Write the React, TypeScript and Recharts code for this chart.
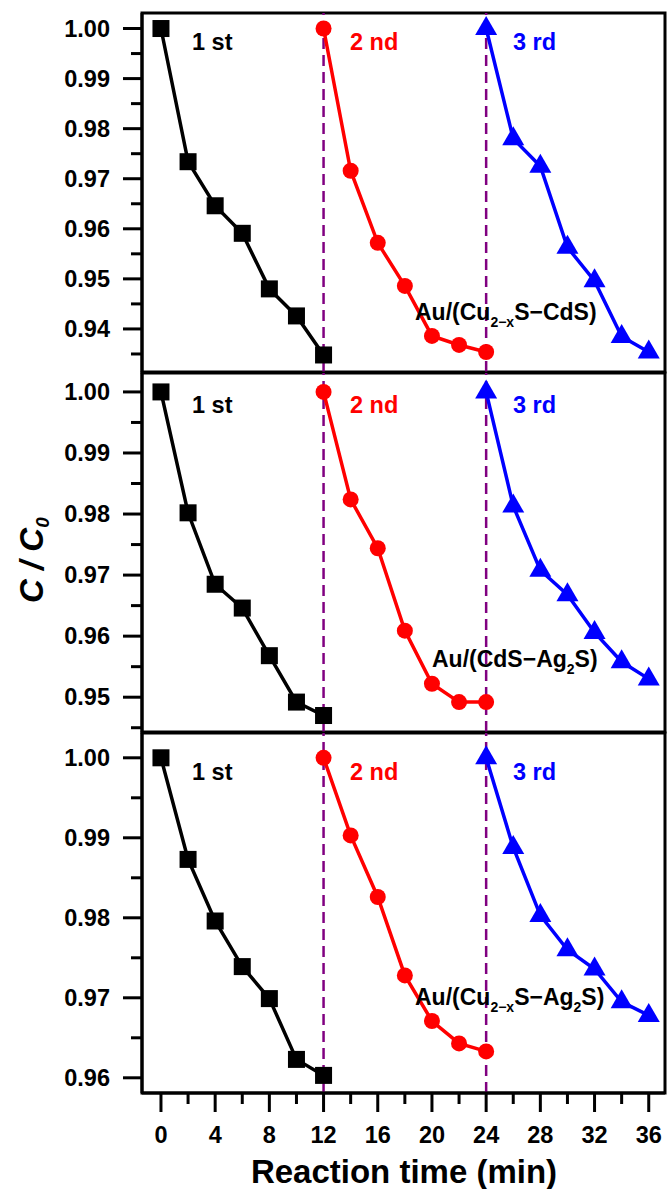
import { LineChart, Line, XAxis, YAxis, ReferenceLine, ReferenceArea } from 'recharts';

// reaction time for each cycle (min)
const timeFirst = [0, 2, 4, 6, 8, 10, 12];
const timeSecond = [12, 14, 16, 18, 20, 22, 24];
const timeThird = [24, 26, 28, 30, 32, 34, 36];

// Au/(Cu2-xS-CdS)
const cuCdsFirst = [1.0, 0.9734, 0.9646, 0.9591, 0.948, 0.9426, 0.9348];
const cuCdsSecond = [1.0, 0.9716, 0.9572, 0.9486, 0.9386, 0.9368, 0.9354];
const cuCdsThird = [1.0, 0.978, 0.9725, 0.9563, 0.9496, 0.9385, 0.9354];

// Au/(CdS-Ag2S)
const cdsAgFirst = [1.0, 0.9802, 0.9685, 0.9646, 0.9568, 0.9492, 0.947];
const cdsAgSecond = [1.0, 0.9824, 0.9744, 0.9609, 0.9522, 0.9492, 0.9492];
const cdsAgThird = [1.0, 0.9813, 0.9708, 0.9668, 0.9606, 0.9558, 0.953];

// Au/(Cu2-xS-Ag2S)
const cuAgFirst = [1.0, 0.9873, 0.9796, 0.9739, 0.9699, 0.9623, 0.9603];
const cuAgSecond = [1.0, 0.9903, 0.9826, 0.9728, 0.9671, 0.9643, 0.9633];
const cuAgThird = [1.0, 0.9888, 0.9803, 0.976, 0.9736, 0.9695, 0.9678];

// tick values (minor ticks included)
const yTicksTop = [0.935, 0.94, 0.945, 0.95, 0.955, 0.96, 0.965, 0.97, 0.975, 0.98, 0.985, 0.99, 0.995, 1.0];
const yTicksMid = [0.945, 0.95, 0.955, 0.96, 0.965, 0.97, 0.975, 0.98, 0.985, 0.99, 0.995, 1.0];
const yTicksBottom = [0.96, 0.965, 0.97, 0.975, 0.98, 0.985, 0.99, 0.995, 1.0];
const xTicks = [0, 2, 4, 6, 8, 10, 12, 14, 16, 18, 20, 22, 24, 26, 28, 30, 32, 34, 36];
const cycleBreaks = [12, 24];

const X_DOMAIN: [number, number] = [-1.4, 37.2];
const FONT = 'Arial, "Liberation Sans", sans-serif';
const RED = '#ff0000';
const BLUE = '#0000ff';
const PURPLE = '#800080';

const toRows = (times: number[], vals: number[]) => times.map((t, i) => ({ t, v: vals[i] }));

function YTick(props: any) {
  const { x, y, payload } = props;
  const v = payload.value as number;
  const major = Math.round(v * 1000) % 10 === 0;
  const ax = x + 32;
  return (
    <g>
      <line x1={ax} x2={ax - (major ? 19 : 11)} y1={y} y2={y} stroke="#000" strokeWidth={3} />
      {major && (
        <text x={x} y={y} dy={8} textAnchor="end" fontFamily={FONT} fontWeight="bold" fontSize={23.5} fill="#000">
          {v.toFixed(2)}
        </text>
      )}
    </g>
  );
}

function XTick(props: any) {
  const { x, y, payload } = props;
  const v = payload.value as number;
  const major = v % 4 === 0;
  const ay = y - 19;
  return (
    <g>
      <line x1={x} x2={x} y1={ay} y2={ay + (major ? 19 : 11)} stroke="#000" strokeWidth={3} />
      {major && (
        <text x={x} y={ay + 50} textAnchor="middle" fontFamily={FONT} fontWeight="bold" fontSize={23.5} fill="#000">
          {v}
        </text>
      )}
    </g>
  );
}

const squareDot = (p: any) => (
  <rect key={`sq-${p.index}`} x={p.cx - 8.5} y={p.cy - 8.5} width={17} height={17} fill="#000" />
);
const circleDot = (p: any) => <circle key={`ci-${p.index}`} cx={p.cx} cy={p.cy} r={8} fill={RED} />;
const triangleDot = (p: any) => (
  <polygon
    key={`tr-${p.index}`}
    points={`${p.cx},${p.cy - 12.5} ${p.cx - 11},${p.cy + 6.5} ${p.cx + 11},${p.cy + 6.5}`}
    fill={BLUE}
  />
);

interface PanelProps {
  top: number;
  height: number;
  bottom: number;
  domain: [number, number];
  yTicks: number[];
  first: number[];
  second: number[];
  third: number[];
  showX: boolean;
}

function Panel({ top, height, bottom, domain, yTicks, first, second, third, showX }: PanelProps) {
  return (
    <div style={{ position: 'absolute', left: 0, top }}>
      <LineChart width={667} height={height} margin={{ top: 13, right: 2, left: 0, bottom }}>
        <XAxis
          dataKey="t"
          type="number"
          domain={X_DOMAIN}
          allowDataOverflow
          ticks={xTicks}
          interval={0}
          height={showX ? 60 : 0}
          tick={showX ? <XTick /> : false}
          tickLine={false}
          tickSize={19}
          tickMargin={0}
          axisLine={{ stroke: '#000', strokeWidth: 3 }}
        />
        <YAxis
          type="number"
          domain={domain}
          allowDataOverflow
          ticks={yTicks}
          interval={0}
          width={142}
          tick={<YTick />}
          tickLine={false}
          tickSize={19}
          tickMargin={13}
          axisLine={{ stroke: '#000', strokeWidth: 3 }}
        />
        <ReferenceArea
          x1={X_DOMAIN[0]}
          x2={X_DOMAIN[1]}
          y1={domain[0]}
          y2={domain[1]}
          fill="none"
          stroke="#000"
          strokeWidth={3}
          ifOverflow="visible"
        />
        <Line
          data={toRows(timeFirst, first)}
          dataKey="v"
          stroke="#000"
          strokeWidth={3.5}
          dot={squareDot}
          activeDot={false}
          isAnimationActive={false}
        />
        {cycleBreaks.map((b) => (
          <ReferenceLine key={b} x={b} stroke={PURPLE} strokeWidth={2.5} strokeDasharray="11 6" />
        ))}
        <Line
          data={toRows(timeSecond, second)}
          dataKey="v"
          stroke={RED}
          strokeWidth={3.5}
          dot={circleDot}
          activeDot={false}
          isAnimationActive={false}
        />
        <Line
          data={toRows(timeThird, third)}
          dataKey="v"
          stroke={BLUE}
          strokeWidth={3.5}
          dot={triangleDot}
          activeDot={false}
          isAnimationActive={false}
        />
      </LineChart>
    </div>
  );
}

function CycleLabels({ y }: { y: number }) {
  return (
    <g fontFamily={FONT} fontWeight="bold" fontSize={23.5}>
      <text x={192} y={y} fill="#000">1 st</text>
      <text x={350} y={y} fill={RED}>2 nd</text>
      <text x={513} y={y} fill={BLUE}>3 rd</text>
    </g>
  );
}

export default function App() {
  return (
    <div style={{ position: 'absolute', left: 0, top: 0, width: 667, height: 1189, background: '#fff' }}>
      <Panel top={0} height={380} bottom={8} domain={[0.9314, 1.0031]} yTicks={yTicksTop}
        first={cuCdsFirst} second={cuCdsSecond} third={cuCdsThird} showX={false} />
      <Panel top={360} height={380} bottom={8} domain={[0.9443, 1.0031]} yTicks={yTicksMid}
        first={cdsAgFirst} second={cdsAgSecond} third={cdsAgThird} showX={false} />
      <Panel top={720} height={469} bottom={36} domain={[0.9581, 1.0031]} yTicks={yTicksBottom}
        first={cuAgFirst} second={cuAgSecond} third={cuAgThird} showX />
      <svg width={667} height={1189} style={{ position: 'absolute', left: 0, top: 0, pointerEvents: 'none' }}>
        <CycleLabels y={50} />
        <CycleLabels y={413} />
        <CycleLabels y={780} />
        <g fontFamily={FONT} fontWeight="bold" fontSize={23} fill="#000">
          <text x={415} y={320}>
            Au/(Cu<tspan fontSize={14} dy={7}>2−x</tspan><tspan dy={-7}>S−CdS)</tspan>
          </text>
          <text x={432} y={667}>
            Au/(CdS−Ag<tspan fontSize={14} dy={7}>2</tspan><tspan dy={-7}>S)</tspan>
          </text>
          <text x={415} y={1005}>
            Au/(Cu<tspan fontSize={14} dy={7}>2−x</tspan><tspan dy={-7}>S−Ag</tspan>
            <tspan fontSize={14} dy={7}>2</tspan><tspan dy={-7}>S)</tspan>
          </text>
        </g>
        <text transform="translate(43,603) rotate(-90)" fontFamily={FONT} fontWeight="bold" fontStyle="italic" fontSize={33} fill="#000">
          C / C<tspan fontSize={19} dy={6}>0</tspan>
        </text>
        <text x={404} y={1183} textAnchor="middle" fontFamily={FONT} fontWeight="bold" fontSize={33} fill="#000">
          Reaction time (min)
        </text>
      </svg>
    </div>
  );
}
